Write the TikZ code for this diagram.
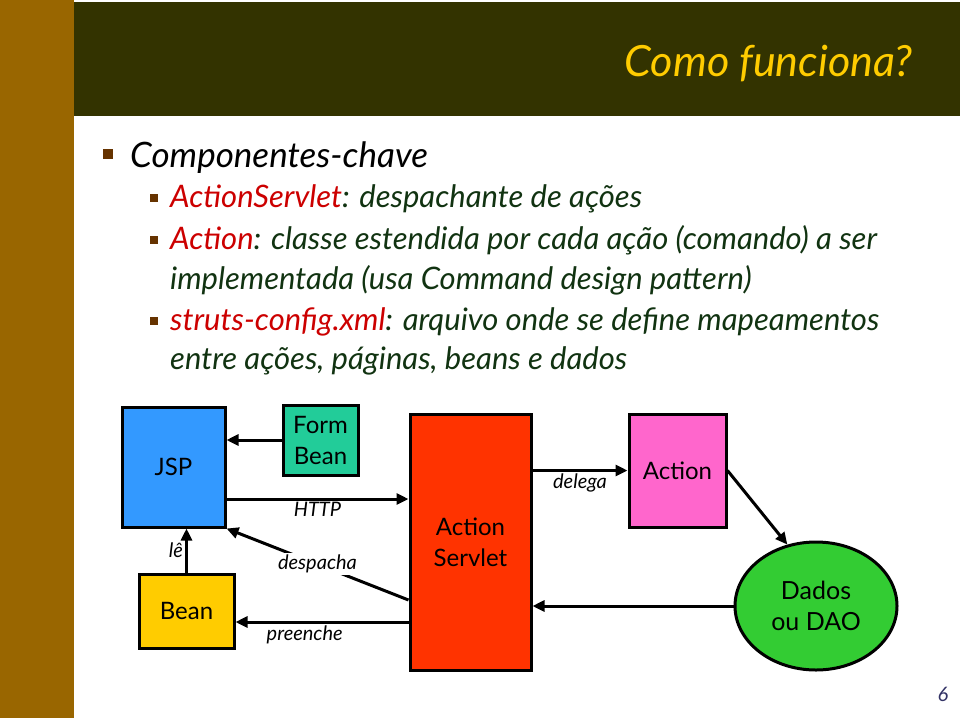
\documentclass[tikz,border=0pt]{standalone}
\usepackage{fontspec}
\setmainfont{Lato}
\usepackage{xcolor}
\usepackage{tikz}
\usetikzlibrary{arrows.meta,positioning,shapes.geometric,calc}

\definecolor{barbrown}{HTML}{996600}
\definecolor{bandolive}{HTML}{333300}
\definecolor{titleyellow}{HTML}{FFCC00}
\definecolor{kwred}{HTML}{CC0000}
\definecolor{txtgreen}{HTML}{113311}
\definecolor{bulletbrown}{HTML}{663300}
\definecolor{jspblue}{HTML}{3399FF}
\definecolor{formgreen}{HTML}{22CC99}
\definecolor{beanyellow}{HTML}{FFCC00}
\definecolor{servletred}{HTML}{FF3300}
\definecolor{actionpink}{HTML}{FF66CC}
\definecolor{daogreen}{HTML}{33CC33}
\definecolor{pagenavy}{HTML}{333366}

\begin{document}
\begin{tikzpicture}[
  x=1pt, y=-1pt,
  comp/.style={draw,line width=3pt,inner sep=0pt,align=center,font=\fontsize{24}{31}\selectfont},
  lbl/.style={font=\itshape\fontsize{20}{22}\selectfont,inner sep=2pt},
  flow/.style={-{Triangle[length=12pt,width=11pt]},line width=3pt},
  mainitem/.style={anchor=base west,inner sep=0pt,font=\itshape\fontsize{35}{40}\selectfont},
  subitem/.style={anchor=base west,inner sep=0pt,text=txtgreen,font=\itshape\fontsize{31}{36}\selectfont},
  bullet/.style={fill=bulletbrown,inner sep=0pt,minimum size=#1}
]
  \useasboundingbox (0,0) rectangle (960,718);
  % slide frame
  \fill[barbrown] (0,0) rectangle (74,718);
  \fill[bandolive] (74,2) rectangle (960,116);
  \node[anchor=base east,inner sep=0pt,text=titleyellow,font=\itshape\fontsize{43}{48}\selectfont] (title) at (913,76) {Como funciona?};

  % bullet text
  \node[bullet=10pt] (b0) at (108,154) {};
  \node[mainitem] (item0) at (130,167) {Componentes-chave};
  \node[bullet=8pt] (b1) at (154,198) {};
  \node[subitem] (item1) at (170,207) {\textcolor{kwred}{ActionServlet}: despachante de ações};
  \node[bullet=8pt] (b2) at (154,240) {};
  \node[subitem] (item2) at (170,249) {\textcolor{kwred}{Action}: classe estendida por cada ação (comando) a ser};
  \node[subitem] (item2b) at (170,289) {implementada (usa Command design pattern)};
  \node[bullet=8pt] (b3) at (154,321) {};
  \node[subitem] (item3) at (170,330) {\textcolor{kwred}{struts-config.xml}: arquivo onde se define mapeamentos};
  \node[subitem] (item3b) at (170,369) {entre ações, páginas, beans e dados};

  % components
  \node[comp,fill=jspblue,minimum width=103pt,minimum height=120pt] (jsp) at (173.5,467) {JSP};
  \node[comp,fill=formgreen,minimum width=75pt,minimum height=70pt] (form) at (320.5,440) {Form\\Bean};
  \node[comp,fill=beanyellow,minimum width=95pt,minimum height=74pt] (bean) at (186.5,611) {Bean};
  \node[comp,fill=servletred,minimum width=121pt,minimum height=256pt] (srv) at (470.5,542) {Action\\Servlet};
  \node[comp,fill=actionpink,minimum width=97pt,minimum height=113pt] (act) at (677.5,470.5) {Action};
  \node[comp,ellipse,fill=daogreen,minimum width=162pt,minimum height=128pt,font=\fontsize{25}{31}\selectfont] (dao) at (816,606) {Dados\\ou DAO};
  \node[text=pagenavy,font=\itshape\fontsize{20}{22}\selectfont] (page) at (943,694) {6};

  % connectors
  \draw[flow] (form.west) -- (form.west -| jsp.east);
  \draw[flow] ([yshift=-32pt]jsp.east) -- ([yshift=-32pt]jsp.east -| srv.west)
      node[lbl,midway,below] {HTTP};
  \draw[flow] ([yshift=-58pt]srv.west) -- (jsp.south east)
      node[lbl,midway,fill=white] {despacha};
  \draw[flow] ([yshift=-80pt]srv.west) -- ([yshift=-80pt]srv.west -| bean.east)
      node[lbl,pos=0.6,below] {preenche};
  \draw[flow] (bean.north) -- (bean.north |- jsp.south)
      node[lbl,midway,left] {lê};
  \draw[flow] (srv.east |- act.west) -- (act.west)
      node[lbl,midway,below] {delega};
  \draw[flow] (act.east) -- (dao.115);
  \draw[flow] (dao.west) -- (dao.west -| srv.east);
\end{tikzpicture}
\end{document}
